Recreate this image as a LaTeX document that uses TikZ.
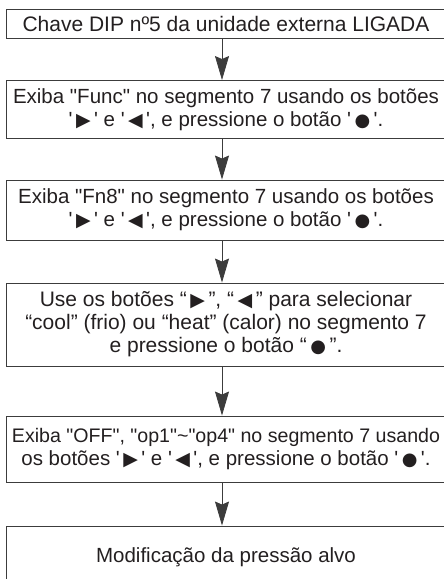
\documentclass[tikz,border=0pt]{standalone}
\usepackage{fontspec}
\newfontfamily\mainf{Liberation Sans}
\newfontfamily\symf{DejaVu Sans}
\usetikzlibrary{arrows.meta}
\definecolor{ink}{RGB}{35,31,32}
\definecolor{ln}{RGB}{60,60,60}
\newcommand{\symR}{{\symf\fontsize{19}{19}\selectfont ▶}}
\newcommand{\symL}{{\symf\fontsize{19}{19}\selectfont ◀}}
\newcommand{\symD}{{\symf\fontsize{18}{18}\selectfont ●}}
\begin{document}
\begin{tikzpicture}[x=1pt,y=-1pt,
  box/.style={draw=ln, line width=0.9pt, minimum width=440pt, inner sep=0pt,
    align=center, text=ink, font=\mainf\fontsize{20.5}{23}\selectfont},
  arr/.style={draw=ln, line width=0.8pt, -{Stealth[length=24pt,width=14pt,inset=3pt]}}]
\useasboundingbox (0,0) rectangle (444,579);
\clip (0,0) rectangle (444,579);
\node[box, minimum height=29pt, font=\mainf\fontsize{21}{23}\selectfont] (b1) at (226,23.5) {Chave DIP nº5 da unidade externa LIGADA};
\node[box, minimum height=58pt] (b2) at (226,109.5) {Exiba "Func" no segmento 7 usando os botões\\'\,\symR\,' e '\,\symL\,', e pressione o botão '\,\symD\,'.};
\node[box, minimum height=60pt] (b3) at (226,210) {Exiba "Fn8" no segmento 7 usando os botões\\'\,\symR\,' e '\,\symL\,', e pressione o botão '\,\symD\,'.};
\node[box, minimum height=83pt, font=\mainf\fontsize{21}{23}\selectfont] (b4) at (226,324.5) {Use os botões “\,\symR\,”, “\,\symL\,” para selecionar\\“cool” (frio) ou “heat” (calor) no segmento 7\\e pressione o botão “\,\symD\,”.};
\node[box, minimum height=66pt] (b5) at (226,449) {{\fontsize{19.6}{23}\selectfont Exiba "OFF", "op1"\textasciitilde"op4" no segmento 7 usando}\\os botões '\,\symR\,' e '\,\symL\,', e pressione o botão '\,\symD\,'.};
\node[box, minimum height=62pt] (b6) at (226,557) {Modificação da pressão alvo};
\draw[arr] ([xshift=-4pt]b1.south) -- ([xshift=-4pt]b2.north);
\draw[arr] ([xshift=-4pt]b2.south) -- ([xshift=-4pt]b3.north);
\draw[arr] ([xshift=-4pt]b3.south) -- ([xshift=-4pt]b4.north);
\draw[arr] ([xshift=-4pt]b4.south) -- ([xshift=-4pt]b5.north);
\draw[arr] ([xshift=-4pt]b5.south) -- ([xshift=-4pt]b6.north);
\end{tikzpicture}
\end{document}
